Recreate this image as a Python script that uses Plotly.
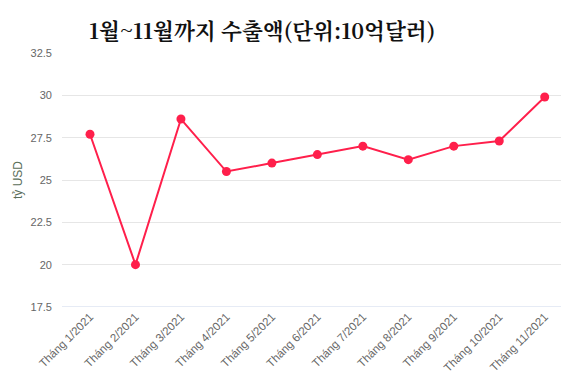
import plotly.graph_objects as go

categories = ["Tháng 1/2021", "Tháng 2/2021", "Tháng 3/2021", "Tháng 4/2021",
              "Tháng 5/2021", "Tháng 6/2021", "Tháng 7/2021", "Tháng 8/2021",
              "Tháng 9/2021", "Tháng 10/2021", "Tháng 11/2021"]
values = [27.7, 20.0, 28.6, 25.5, 26.0, 26.5, 27.0, 26.2, 27.0, 27.3, 29.9]
y_ticks = [17.5, 20, 22.5, 25, 27.5, 30, 32.5]
y_tick_labels = ["17.5", "20", "22.5", "25", "27.5", "30", "32.5"]

# page has an 8px body margin, so figure is offset by 8px
W, H = 561, 366
L, R, T, B = 54, 2, 45, 67

fig = go.Figure()
fig.add_trace(go.Scatter(
    x=list(range(len(categories))), y=values, mode="lines+markers",
    line=dict(color="#ff1f4b", width=2),
    marker=dict(color="#ff1f4b", size=9),
    hoverinfo="y", showlegend=False,
))

fig.update_layout(
    width=W, height=H,
    margin=dict(l=L, r=R, t=T, b=B, autoexpand=False),
    paper_bgcolor="white", plot_bgcolor="white",
    title=dict(
        text="<b>1월~11월까지 수출액(단위:10억달러)</b>",
        font=dict(family="Noto Serif CJK KR, Noto Sans CJK KR", size=21.6, color="#111111"),
        x=81 / W, xanchor="left", xref="container",
        y=1 - 23 / H, yanchor="middle", yref="container",
    ),
    xaxis=dict(
        tickmode="array", tickvals=list(range(len(categories))), ticktext=categories,
        range=[-0.616, 10.49], tickangle=-45, automargin=False,
        tickfont=dict(family="Arial, Liberation Sans", size=11.5, color="#666666"),
        showgrid=False, zeroline=False, showline=False, ticks="",
    ),
    yaxis=dict(
        range=[17.5, 32.5], tickmode="array", tickvals=y_ticks, ticktext=y_tick_labels,
        tickfont=dict(family="Arial, Liberation Sans", size=11, color="#666666"),
        gridcolor="#e6e6e6", gridwidth=1, zeroline=False, showline=False,
        ticks="", ticklabelstandoff=9, automargin=False,
        title=dict(text="tỷ USD", font=dict(family="Arial, Liberation Sans", size=12, color="#5a6e5a"),
                   standoff=5),
    ),
)
fig.add_shape(type="line", xref="paper", yref="y", x0=0, x1=1, y0=17.5, y1=17.5,
              line=dict(color="#ccd6eb", width=1), layer="below")

fig.write_html("out.html")
